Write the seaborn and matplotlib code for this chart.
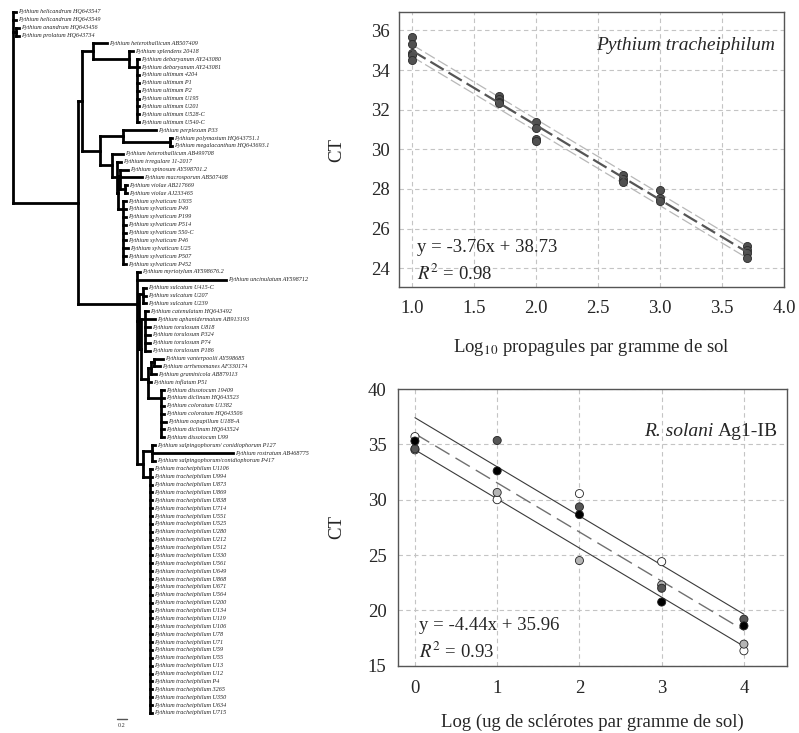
import numpy as np
import pandas as pd
import matplotlib
matplotlib.use('Agg')
import matplotlib.pyplot as plt
import seaborn as sns

# ---- tree data: leaves (top to bottom), tip depths and internal nodes ----
leaf_names = [
    'Pythium helicandrum HQ643547', 'Pythium helicandrum HQ643549',
    'Pythium anandrum HQ643456', 'Pythium prolatum HQ643734',
    'Pythium heterothallicum AB507409', 'Pythium splendens 20418',
    'Pythium debaryanum AY243080', 'Pythium debaryanum AY243081',
    'Pythium ultimum 4204', 'Pythium ultimum P1', 'Pythium ultimum P2',
    'Pythium ultimum U195', 'Pythium ultimum U201', 'Pythium ultimum U528-C',
    'Pythium ultimum U540-C', 'Pythium perplexum P33',
    'Pythium polymastum HQ643751.1', 'Pythium megalacanthum HQ643693.1',
    'Pythium heterothallicum AB499708', 'Pythium irregulare 11-2017',
    'Pythium spinosum AY598701.2', 'Pythium macrosporum AB507408',
    'Pythium violae AB217669', 'Pythium violae AJ233465',
    'Pythium sylvaticum U935', 'Pythium sylvaticum P49', 'Pythium sylvaticum P199',
    'Pythium sylvaticum P514', 'Pythium sylvaticum 550-C', 'Pythium sylvaticum P46',
    'Pythium sylvaticum U25', 'Pythium sylvaticum P507', 'Pythium sylvaticum P452',
    'Pythium myriotylum AY598676.2', 'Pythium uncinulatum AY598712',
    'Pythium sulcatum U415-C', 'Pythium sulcatum U207', 'Pythium sulcatum U239',
    'Pythium catenulatum HQ643492', 'Pythium aphanidermatum AB913193',
    'Pythium torulosum U818', 'Pythium torulosum P324', 'Pythium torulosum P74',
    'Pythium torulosum P186', 'Pythium vanterpoolii AY598685',
    'Pythium arrhenomanes AF330174', 'Pythium graminicola AB879113',
    'Pythium inflatum P51', 'Pythium dissotocum 19409', 'Pythium diclinum HQ643523',
    'Pythium coloratum U1382', 'Pythium coloratum HQ643506',
    'Pythium oopapillum U188-A', 'Pythium diclinum HQ643524', 'Pythium dissotocum U99',
    'Pythium salpingophorum/ conidiophorum P127', 'Pythium rostratum AB468775',
    'Pythium salpingophorum/conidiophorum P417',
    'Pythium tracheiphilum U1106', 'Pythium tracheiphilum U994',
    'Pythium tracheiphilum U873', 'Pythium tracheiphilum U869',
    'Pythium tracheiphilum U838', 'Pythium tracheiphilum U714',
    'Pythium tracheiphilum U551', 'Pythium tracheiphilum U525',
    'Pythium tracheiphilum U280', 'Pythium tracheiphilum U212',
    'Pythium tracheiphilum U512', 'Pythium tracheiphilum U330',
    'Pythium tracheiphilum U561', 'Pythium tracheiphilum U649',
    'Pythium tracheiphilum U868', 'Pythium tracheiphilum U671',
    'Pythium tracheiphilum U564', 'Pythium tracheiphilum U200',
    'Pythium tracheiphilum U134', 'Pythium tracheiphilum U119',
    'Pythium tracheiphilum U106', 'Pythium tracheiphilum U78',
    'Pythium tracheiphilum U71', 'Pythium tracheiphilum U59',
    'Pythium tracheiphilum U55', 'Pythium tracheiphilum U13',
    'Pythium tracheiphilum U12', 'Pythium tracheiphilum P4',
    'Pythium tracheiphilum 3265', 'Pythium tracheiphilum U350',
    'Pythium tracheiphilum U634', 'Pythium tracheiphilum U715',
]

leaf_tip = [
    0.06, 0.06, 0.12, 0.12,
    1.88, 2.40,
    2.52, 2.52, 2.52, 2.52, 2.52, 2.52, 2.52, 2.52, 2.52,
    2.86, 3.17, 3.17,
    2.20, 2.16, 2.30, 2.58, 2.28, 2.28,
    2.26, 2.26, 2.26, 2.26, 2.26, 2.26, 2.30, 2.26, 2.26,
    2.54, 4.26,
    2.66, 2.66, 2.66,
    2.70, 2.84, 2.74, 2.74, 2.74, 2.74,
    3.00, 2.94, 2.86, 2.76,
    3.02, 3.02, 3.02, 3.02, 3.06, 3.02, 3.02,
    2.84, 4.40, 2.84,
    2.78, 2.78, 2.78, 2.78, 2.78, 2.78, 2.78, 2.78, 2.78, 2.78, 2.78,
    2.78, 2.78, 2.78, 2.78, 2.78, 2.78, 2.78, 2.78, 2.78, 2.78, 2.78,
    2.78, 2.78, 2.78, 2.78, 2.78, 2.78, 2.78, 2.78, 2.78, 2.78,
]

# internal nodes: name -> (depth, children); int = leaf index
tree_nodes = {
    'root': (0.00, [0, 1, 'AP', 'A']),
    'AP': (0.06, [2, 3]),
    'A': (1.30, ['B', 'K']),
    'B': (1.38, ['C', 'F']),
    'C': (1.60, [4, 'D']),
    'D': (2.32, [5, 'E']),
    'E': (2.47, [6, 7, 8, 9, 10, 11, 12, 13, 14]),
    'F': (1.74, ['G', 'H']),
    'G': (2.20, [15, 'PM']),
    'PM': (3.14, [16, 17]),
    'H': (1.98, [18, 'I']),
    'I': (2.08, [19, 'J']),
    'J': (2.10, ['S', 'SYL']),
    'S': (2.14, [20, 21, 'V']),
    'V': (2.24, [22, 23]),
    'SYL': (2.20, [24, 25, 26, 27, 28, 29, 30, 31, 32]),
    'K': (2.48, [33, 34, 'K2', 'T']),
    'K2': (2.52, ['SUL', 'K3']),
    'SUL': (2.60, [35, 36, 37]),
    'K3': (2.56, ['K4', 'P2']),
    'K4': (2.64, [38, 39, 40, 41, 42, 43]),
    'P2': (2.70, ['VAG', 47, 'DIS']),
    'VAG': (2.76, ['VA', 46]),
    'VA': (2.82, [44, 45]),
    'DIS': (2.96, [48, 49, 50, 51, 52, 53, 54]),
    'T': (2.60, ['SAL', 'TRA']),
    'SAL': (2.78, [55, 56, 57]),
    'TRA': (2.74, [58, 59, 60, 61, 62, 63, 64, 65, 66, 67, 68, 69, 70, 71, 72, 73,
                   74, 75, 76, 77, 78, 79, 80, 81, 82, 83, 84, 85, 86, 87, 88, 89]),
}
scale_bar = 0.2

# ---- qPCR standard curves ----
trach_x = [1.0, 1.0, 1.0, 1.0, 1.0, 1.7, 1.7, 1.7, 1.7, 2.0, 2.0, 2.0, 2.0,
           2.7, 2.7, 2.7, 3.0, 3.0, 3.0, 3.7, 3.7, 3.7, 3.7]
trach_ct = [35.65, 35.3, 34.85, 34.75, 34.5, 32.7, 32.55, 32.4, 32.35,
            31.4, 31.1, 30.5, 30.4, 28.7, 28.5, 28.35, 27.95, 27.55, 27.4,
            25.1, 24.9, 24.75, 24.5]
trach_fit = (-3.76, 38.73)
trach_band = 0.3

rs_x = [0, 1, 2, 3, 4]
rs_white = [35.7, 30.0, 30.55, 24.4, 16.35]
rs_light = [34.5, 30.65, 24.5, 22.3, 16.95]
rs_dark = [34.6, 35.35, 29.35, 22.0, 19.2]
rs_black = [35.3, 32.6, 28.65, 20.75, 18.6]
rs_fit = (-4.44, 35.96)
rs_band = 1.45

sns.set_theme(style='white')
plt.rcParams['font.family'] = ['Liberation Serif', 'DejaVu Serif']
plt.rcParams['mathtext.fontset'] = 'stix'

fig = plt.figure(figsize=(7.99, 7.33), dpi=100)

# ---- phylogenetic tree ----
axt = fig.add_axes([0, 0, 300 / 799, 1])
axt.set_xlim(-0.26, 5.74)
axt.set_ylim(91.54, -1.52)
axt.axis('off')


def node_y(n):
    if isinstance(n, int):
        return float(n)
    ys = [node_y(c) for c in tree_nodes[n][1]]
    y = ys[-1]
    for v in reversed(ys[:-1]):
        y = (v + y) / 2
    return y


def node_x(n):
    return leaf_tip[n] if isinstance(n, int) else tree_nodes[n][0]


def draw(n):
    depth, kids = tree_nodes[n]
    ys = [node_y(k) for k in kids]
    axt.plot([depth, depth], [ys[0], ys[-1]], color='black', lw=2.0,
             solid_capstyle='projecting')
    for k, yk in zip(kids, ys):
        axt.plot([depth, node_x(k)], [yk, yk], color='black', lw=2.0,
                 solid_capstyle='projecting')
        if isinstance(k, str):
            draw(k)


draw('root')
for i, name in enumerate(leaf_names):
    axt.text(leaf_tip[i] + 0.05, i, name, fontsize=4.4, style='italic',
             color='#222222', va='center', ha='left')

sb_y = len(leaf_names) - 0.2
axt.plot([2.08, 2.08 + scale_bar], [sb_y, sb_y], color='#555555', lw=1.0)
axt.text(2.08 + scale_bar / 2, sb_y + 0.5, f'{scale_bar}', fontsize=4.4,
         ha='center', va='top', color='#333333')


def style_axes(ax, xpad, ypad):
    ax.grid(True, linestyle=(0, (4, 3)), color='#c4c4c4', lw=0.8)
    ax.set_axisbelow(True)
    for s in ax.spines.values():
        s.set_color('#555555')
        s.set_linewidth(1.0)
    ax.tick_params(axis='x', length=0, labelsize=13.5, pad=xpad)
    ax.tick_params(axis='y', length=0, labelsize=13.5, pad=ypad)


# ---- Pythium tracheiphilum ----
ax1 = fig.add_axes([0.4997, 0.608, 0.4819, 0.376])
sns.scatterplot(x=trach_x, y=trach_ct, ax=ax1, color='#505050',
                edgecolor='#2a2a2a', s=34, linewidth=0.6, zorder=3)
xs = np.array([min(trach_x), max(trach_x)])
fit = trach_fit[0] * xs + trach_fit[1]
ax1.plot(xs, fit + trach_band, color='#b8b8b8', lw=0.9, dashes=(9, 3), zorder=2)
ax1.plot(xs, fit - trach_band, color='#b8b8b8', lw=0.9, dashes=(9, 3), zorder=2)
ax1.plot(xs, fit, color='#555555', lw=1.6, dashes=(7, 2.5), zorder=4)
ax1.set_xlim(0.895, 4.0)
ax1.set_ylim(23.04, 36.94)
ax1.set_xticks([1.0, 1.5, 2.0, 2.5, 3.0, 3.5, 4.0])
ax1.set_xticklabels(['1.0', '1.5', '2.0', '2.5', '3.0', '3.5', '4.0'])
ax1.set_yticks([24, 26, 28, 30, 32, 34, 36])
style_axes(ax1, 9, 7)
ax1.set_ylabel('CT', fontsize=13.5)
ax1.yaxis.set_label_coords(-0.141, 0.5)
ax1.set_xlabel(r'Log$_{10}$ propagules par gramme de sol', fontsize=13.5)
ax1.xaxis.label.set_va('center')
ax1.xaxis.set_label_coords(0.5, -0.217)
ax1.text(0.976, 0.879, 'Pythium tracheiphilum', transform=ax1.transAxes,
         fontsize=14, style='italic', ha='right', va='center')
ax1.text(0.046, 0.146, f'y = {trach_fit[0]:.2f}x + {trach_fit[1]:.2f}',
         transform=ax1.transAxes, fontsize=13.5, ha='left', va='center')
ax1.text(0.046, 0.05, r'$\mathit{R}^2$ = 0.98', transform=ax1.transAxes,
         fontsize=13.5, ha='left', va='center')

# ---- R. solani Ag1-IB ----
ax2 = fig.add_axes([0.4977, 0.0918, 0.4869, 0.3775])
series = [('blanc', rs_white), ('gris clair', rs_light),
          ('gris fonce', rs_dark), ('noir', rs_black)]
df = pd.DataFrame([(name, x, v) for name, vals in series for x, v in zip(rs_x, vals)],
                  columns=['serie', 'x', 'ct'])
palette = {'blanc': '#ffffff', 'gris clair': '#b4b4b4',
           'gris fonce': '#565656', 'noir': '#000000'}
sns.scatterplot(data=df, x='x', y='ct', hue='serie', palette=palette, ax=ax2,
                s=34, edgecolor='#222222', linewidth=0.6, legend=False, zorder=3)
xs = np.array([min(rs_x), max(rs_x)])
fit = rs_fit[0] * xs + rs_fit[1]
ax2.plot(xs, fit + rs_band, color='#3a3a3a', lw=0.8, zorder=2)
ax2.plot(xs, fit - rs_band, color='#3a3a3a', lw=0.8, zorder=2)
ax2.plot(xs, fit, color='#707070', lw=1.0, dashes=(12, 5), zorder=2)
ax2.set_xlim(-0.21, 4.52)
ax2.set_ylim(15, 40)
ax2.set_xticks([0, 1, 2, 3, 4])
ax2.set_yticks([15, 20, 25, 30, 35, 40])
style_axes(ax2, 10.5, 8)
ax2.set_ylabel('CT', fontsize=13.5)
ax2.yaxis.set_label_coords(-0.135, 0.5)
ax2.set_xlabel('Log (ug de sclérotes par gramme de sol)', fontsize=13.5)
ax2.xaxis.label.set_va('center')
ax2.xaxis.set_label_coords(0.5, -0.2035)
t_ag = ax2.text(0.978, 0.845, 'Ag1-IB', transform=ax2.transAxes,
                fontsize=14, ha='right', va='center')
ax2.annotate('R. solani ', xy=(0, 0.5), xycoords=t_ag, fontsize=14,
             style='italic', ha='right', va='center')
ax2.text(0.055, 0.147, f'y = {rs_fit[0]:.2f}x + {rs_fit[1]:.2f}',
         transform=ax2.transAxes, fontsize=13.5, ha='left', va='center')
ax2.text(0.055, 0.05, r'$\mathit{R}^2$ = 0.93', transform=ax2.transAxes,
         fontsize=13.5, ha='left', va='center')

fig.savefig('out.png', dpi=100)
